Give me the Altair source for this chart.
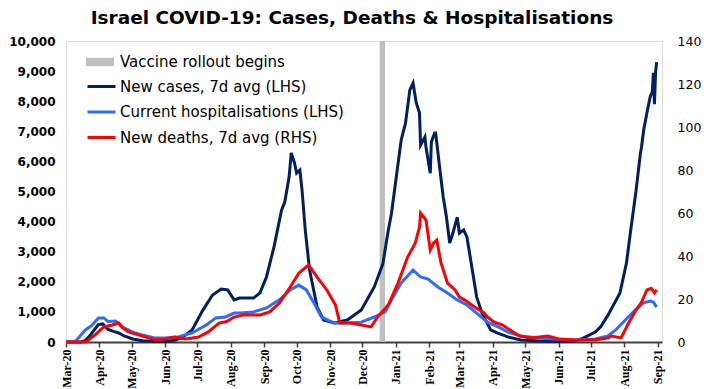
import altair as alt
import pandas as pd

# ---------------- data ----------------
case_dates = ["2020-03-01", "2020-03-15", "2020-03-19", "2020-03-24", "2020-03-31", "2020-04-04",
              "2020-04-09", "2020-04-16", "2020-04-19", "2020-04-24", "2020-05-02", "2020-05-11",
              "2020-05-23", "2020-06-01", "2020-06-10", "2020-06-17", "2020-06-26", "2020-07-06",
              "2020-07-15", "2020-07-23", "2020-07-29", "2020-08-04", "2020-08-09", "2020-08-22",
              "2020-08-28", "2020-09-03", "2020-09-10", "2020-09-17", "2020-09-20", "2020-09-24",
              "2020-09-26", "2020-09-29", "2020-10-01", "2020-10-04", "2020-10-06", "2020-10-09",
              "2020-10-13", "2020-10-20", "2020-10-26", "2020-11-05", "2020-11-17", "2020-11-30",
              "2020-12-12", "2020-12-20", "2020-12-25", "2020-12-28", "2021-01-06", "2021-01-10",
              "2021-01-14", "2021-01-17", "2021-01-20", "2021-01-23", "2021-01-24", "2021-01-28",
              "2021-01-29", "2021-02-02", "2021-02-03", "2021-02-06", "2021-02-07", "2021-02-11",
              "2021-02-14", "2021-02-17", "2021-02-20", "2021-02-23", "2021-02-27", "2021-03-01",
              "2021-03-05", "2021-03-08", "2021-03-13", "2021-03-17", "2021-03-22", "2021-03-30",
              "2021-04-05", "2021-04-15", "2021-04-27", "2021-05-15", "2021-06-01", "2021-06-17",
              "2021-06-22", "2021-06-28", "2021-07-05", "2021-07-10", "2021-07-17", "2021-07-28",
              "2021-08-03", "2021-08-07", "2021-08-12", "2021-08-16", "2021-08-17", "2021-08-19",
              "2021-08-22", "2021-08-25", "2021-08-27", "2021-08-28", "2021-08-29", "2021-08-30",
              "2021-08-31"]
case_values = [0, 0, 50, 250, 580, 600,
               420, 330, 300, 200, 100, 40,
               15, 20, 60, 150, 400, 1060,
               1560, 1760, 1730, 1400, 1460, 1460,
               1630, 2160, 3160, 4380, 4650, 5480,
               6280, 5950, 5610, 5710, 5050, 3720,
               2390, 1160, 730, 630, 730, 1060,
               1830, 2600, 3700, 4280, 6710, 7270,
               8370, 8600, 7940, 7610, 6540, 6810,
               6480, 5610, 6640, 6940, 6940, 5710,
               4820, 4150, 3290, 3620, 4150, 3620,
               3720, 3490, 2390, 1500, 960, 400,
               300, 170, 70, 30, 15, 40,
               100, 200, 330, 500, 900, 1630,
               2620, 3720, 5050, 6280, 6480, 7040,
               7610, 8140, 8310, 8940, 7900, 8940,
               9300]

hosp_dates = ["2020-03-01", "2020-03-10", "2020-03-19", "2020-03-25", "2020-03-31", "2020-04-05",
              "2020-04-09", "2020-04-16", "2020-04-22", "2020-05-02", "2020-05-11", "2020-05-23",
              "2020-06-01", "2020-06-13", "2020-06-26", "2020-07-09", "2020-07-18", "2020-07-27",
              "2020-08-04", "2020-08-09", "2020-08-22", "2020-09-03", "2020-09-15", "2020-09-25",
              "2020-10-03", "2020-10-10", "2020-10-17", "2020-10-24", "2020-11-05", "2020-11-17",
              "2020-11-30", "2020-12-12", "2020-12-22", "2020-12-28", "2021-01-06", "2021-01-17",
              "2021-01-24", "2021-01-31", "2021-02-09", "2021-02-18", "2021-02-27", "2021-03-08",
              "2021-03-17", "2021-03-27", "2021-04-08", "2021-04-15", "2021-04-27", "2021-05-13",
              "2021-05-29", "2021-06-17", "2021-07-05", "2021-07-17", "2021-07-24", "2021-08-02",
              "2021-08-11", "2021-08-19", "2021-08-25", "2021-08-28", "2021-08-31"]
hosp_values = [0, 30, 400, 550, 800, 800,
               680, 700, 500, 330, 230, 130,
               130, 170, 300, 560, 800, 830,
               960, 960, 1000, 1130, 1400, 1730,
               1890, 1730, 1300, 830, 630, 630,
               660, 830, 1000, 1400, 1960, 2390,
               2160, 2090, 1830, 1630, 1400, 1230,
               960, 660, 470, 330, 200, 130,
               100, 70, 100, 200, 400, 730,
               1060, 1300, 1360, 1330, 1160]

death_dates = ["2020-03-01", "2020-03-20", "2020-03-22", "2020-03-28", "2020-04-05", "2020-04-13",
               "2020-04-19", "2020-04-23", "2020-04-28", "2020-05-07", "2020-05-14", "2020-05-23",
               "2020-06-01", "2020-06-10", "2020-06-20", "2020-07-02", "2020-07-11", "2020-07-21",
               "2020-07-28", "2020-08-04", "2020-08-13", "2020-08-28", "2020-09-06", "2020-09-15",
               "2020-09-25", "2020-10-03", "2020-10-12", "2020-10-20", "2020-10-29", "2020-11-06",
               "2020-11-10", "2020-11-20", "2020-11-30", "2020-12-09", "2020-12-15", "2020-12-25",
               "2021-01-03", "2021-01-12", "2021-01-19", "2021-01-23", "2021-01-24", "2021-01-29",
               "2021-02-02", "2021-02-05", "2021-02-08", "2021-02-12", "2021-02-18", "2021-02-25",
               "2021-03-01", "2021-03-06", "2021-03-15", "2021-03-24", "2021-03-27", "2021-04-02",
               "2021-04-10", "2021-04-17", "2021-04-26", "2021-05-06", "2021-05-22", "2021-06-01",
               "2021-06-17", "2021-07-05", "2021-07-17", "2021-07-20", "2021-07-29", "2021-08-05",
               "2021-08-12", "2021-08-17", "2021-08-22", "2021-08-26", "2021-08-29", "2021-08-31"]
death_values = [0, 0, 1, 3.3, 7, 7.9,
                8.8, 6.5, 4.7, 3.3, 2.3, 0.9,
                1.4, 2.3, 1.4, 2.3, 4.7, 8.8,
                9.5, 11.6, 12.6, 12.6, 14, 18.1,
                25.6, 32, 35.8, 30.2, 24.2, 17.2,
                8.8, 8.8, 7.9, 7, 11.6, 17.2,
                27.4, 39.5, 46, 53.5, 60, 56.7,
                42.8, 46, 47.4, 36.7, 27.4, 24.2,
                20.9, 19.5, 16.3, 13.5, 11.6, 9.3,
                7.9, 5.6, 2.8, 1.9, 2.8, 1.4,
                0.9, 0.9, 1.9, 2.8, 1.9, 8.8,
                14.9, 18.6, 24.2, 25, 22.8, 24.2]

SERIES = ["New cases, 7d avg (LHS)", "Current hospitalisations (LHS)", "New deaths, 7d avg (RHS)"]
COLORS = ["#002060", "#2F6BFF", "#FF0000"]
vaccine_label = ["Vaccine rollout begins"]
vaccine_start = ["2020-12-17"]
vaccine_end = ["2020-12-22"]

# ---------------- tables ----------------
lhs = pd.DataFrame({
    "date": pd.to_datetime(case_dates + hosp_dates),
    "value": case_values + hosp_values,
    "series": [SERIES[0]] * len(case_dates) + [SERIES[1]] * len(hosp_dates),
})
rhs = pd.DataFrame({
    "date": pd.to_datetime(death_dates),
    "value": death_values,
    "series": [SERIES[2]] * len(death_dates),
})
vac = pd.DataFrame({
    "date": pd.to_datetime(vaccine_start),
    "end": pd.to_datetime(vaccine_end),
    "label": vaccine_label,
})

W, H = 596, 301

xscale = alt.Scale(domain=[alt.DateTime(year=2020, month=3, date=1),
                           alt.DateTime(year=2021, month=9, date=5)])
xaxis = alt.Axis(format="%b-%y", tickCount={"interval": "month", "step": 1},
                 labelAngle=-90, labelAlign="right", labelBaseline="middle",
                 labelFont="Liberation Sans Narrow", labelFontWeight="bold", labelFontSize=12,
                 labelColor="black", labelPadding=2, tickSize=5, tickColor="#404040",
                 tickWidth=1.5, domainColor="#404040", domainWidth=2, grid=False,
                 labelOverlap=False, labelFlush=False, title=None)

x_enc = alt.X("date:T", scale=xscale, axis=xaxis)

color_enc = alt.Color(
    "series:N",
    scale=alt.Scale(domain=SERIES, range=COLORS),
    legend=alt.Legend(title=None, orient="none", legendX=20, legendY=30,
                      symbolType="stroke", symbolSize=784, symbolStrokeWidth=3,
                      labelFont="DejaVu Sans", labelFontSize=15, labelColor="black",
                      labelLimit=400, rowPadding=1.5, labelOffset=3, padding=0),
)

bar = alt.Chart(vac).mark_rect(opacity=1).encode(
    x=x_enc,
    x2="end:T",
    y=alt.value(0),
    y2=alt.value(H),
    fill=alt.Fill("label:N", scale=alt.Scale(range=["#BFBFBF"]),
                  legend=alt.Legend(title=None, orient="none", legendX=20, legendY=7,
                                    symbolType="M-1,-0.3H1V0.3H-1Z", symbolSize=784,
                                    symbolStrokeWidth=0, symbolOpacity=1,
                                    labelFont="DejaVu Sans", labelFontSize=15,
                                    labelColor="black", labelLimit=400, labelOffset=6,
                                    padding=0)),
)

left = alt.Chart(lhs).mark_line(strokeWidth=3).encode(
    x=x_enc,
    y=alt.Y("value:Q", scale=alt.Scale(domain=[0, 10000]),
            axis=alt.Axis(values=list(range(0, 10001, 1000)), format=",d", orient="left",
                          labelFont="DejaVu Sans", labelFontWeight="bold", labelFontSize=12,
                          labelColor="black", ticks=False, domain=False, grid=False,
                          labelPadding=11, title=None)),
    color=color_enc,
)

right = alt.Chart(rhs).mark_line(strokeWidth=3).encode(
    x=x_enc,
    y=alt.Y("value:Q", scale=alt.Scale(domain=[0, 140]),
            axis=alt.Axis(values=list(range(0, 141, 20)), format="d", orient="right",
                          labelFont="DejaVu Sans", labelFontSize=12.5, labelColor="black",
                          ticks=False, domain=False, grid=False, labelPadding=15, title=None)),
    color=color_enc,
)

chart = alt.layer(bar, left, right).resolve_scale(y="independent").properties(
    width=W, height=H, padding=0,
    title=alt.TitleParams("Israel COVID-19: Cases, Deaths & Hospitalisations",
                          font="DejaVu Sans", fontWeight="bold", fontSize=18.5,
                          color="black", anchor="middle", offset=8, dx=-12),
).configure_view(stroke="#7F7F7F", strokeWidth=1).configure(background="white")

chart.save("out.html", embed_options={"renderer": "svg", "actions": False})
